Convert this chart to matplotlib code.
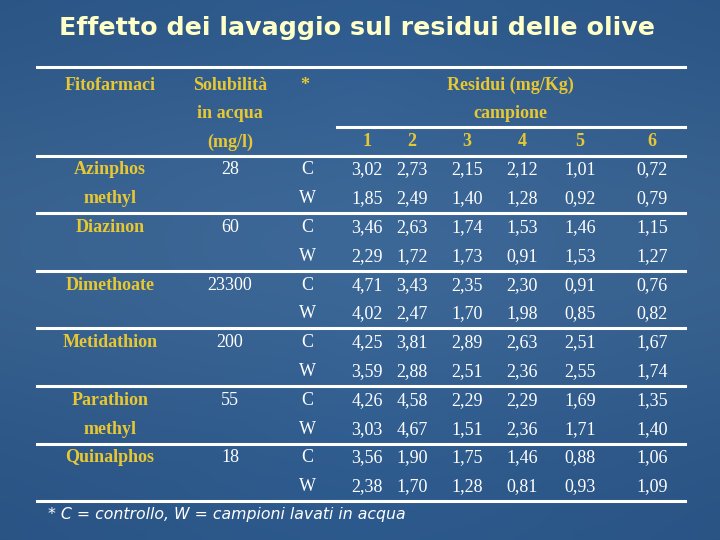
import numpy as np
import matplotlib.pyplot as plt

# table content
title = "Effetto dei lavaggio sul residui delle olive"
fitofarmaci = [["Azinphos", "methyl"], ["Diazinon", ""], ["Dimethoate", ""],
               ["Metidathion", ""], ["Parathion", "methyl"], ["Quinalphos", ""]]
solubilita = ["28", "60", "23300", "200", "55", "18"]
trattamento = ["C", "W"]
campioni = ["1", "2", "3", "4", "5", "6"]
residui_c = [
    ["3,02", "2,73", "2,15", "2,12", "1,01", "0,72"],
    ["3,46", "2,63", "1,74", "1,53", "1,46", "1,15"],
    ["4,71", "3,43", "2,35", "2,30", "0,91", "0,76"],
    ["4,25", "3,81", "2,89", "2,63", "2,51", "1,67"],
    ["4,26", "4,58", "2,29", "2,29", "1,69", "1,35"],
    ["3,56", "1,90", "1,75", "1,46", "0,88", "1,06"],
]
residui_w = [
    ["1,85", "2,49", "1,40", "1,28", "0,92", "0,79"],
    ["2,29", "1,72", "1,73", "0,91", "1,53", "1,27"],
    ["4,02", "2,47", "1,70", "1,98", "0,85", "0,82"],
    ["3,59", "2,88", "2,51", "2,36", "2,55", "1,74"],
    ["3,03", "4,67", "1,51", "2,36", "1,71", "1,40"],
    ["2,38", "1,70", "1,28", "0,81", "0,93", "1,09"],
]
nota = "* C = controllo, W = campioni lavati in acqua"

YELLOW = "#e8c832"
TITLE_COL = "#ffffc8"
SERIF = "Liberation Serif"

fig = plt.figure(figsize=(7.2, 5.4), dpi=100)
ax = fig.add_axes([0, 0, 1, 1])
ax.set_xlim(0, 720)
ax.set_ylim(540, 0)
ax.axis("off")

# blue slide background, a bit lighter in the middle
t = np.linspace(0, 1, 256)
w = np.exp(-((t - 0.45) / 0.35) ** 2)
top = np.array([0x2b, 0x58, 0x8c]) / 255
mid = np.array([0x3c, 0x68, 0x98]) / 255
grad = top[None, :] * (1 - w[:, None]) + mid[None, :] * w[:, None]
xs = np.linspace(0, 1, 64)
wx = 1 - 0.12 * np.abs(xs - 0.5)
img = grad[:, None, :] * wx[None, :, None]
ax.imshow(img, extent=[0, 720, 540, 0], aspect="auto", zorder=0)

ax.text(357, 28, title, ha="center", va="center", fontsize=18.3,
        fontweight="bold", color=TITLE_COL, family="DejaVu Sans")

col_name, col_sol, col_cw = 110, 230, 307
col_x = [367, 412, 467, 522, 580, 652]
hdr = dict(ha="center", va="center", fontsize=13, fontweight="bold",
           color=YELLOW, family=SERIF)
val = dict(ha="center", va="center", fontsize=13, color="white", family=SERIF)

# header
ax.text(col_name, 85, "Fitofarmaci", **hdr)
ax.text(col_sol, 85, "Solubilità", **hdr)
ax.text(col_sol, 114, "in acqua", **hdr)
ax.text(col_sol, 142, "(mg/l)", **hdr)
ax.text(305, 85, "*", **hdr)
ax.text(510, 85, "Residui (mg/Kg)", **hdr)
ax.text(510, 114, "campione", **hdr)
for x, c in zip(col_x, campioni):
    ax.text(x, 142, c, **hdr)

lw = 2.2
ax.plot([37, 685], [67, 67], color="white", lw=lw)
ax.plot([337, 685], [127, 127], color="white", lw=lw)
ax.plot([37, 685], [155.5, 155.5], color="white", lw=lw)

row_h = 28.8
y0 = 170
for i, name in enumerate(fitofarmaci):
    yc = y0 + 2 * i * row_h
    yw = yc + row_h
    ax.text(col_name, yc, name[0], **hdr)
    if name[1]:
        ax.text(col_name, yw, name[1], **hdr)
    ax.text(col_sol, yc, solubilita[i], **val)
    ax.text(col_cw, yc, trattamento[0], **val)
    ax.text(col_cw, yw, trattamento[1], **val)
    for x, vc, vw in zip(col_x, residui_c[i], residui_w[i]):
        ax.text(x, yc, vc, **val)
        ax.text(x, yw, vw, **val)
    ysep = yw + row_h / 2
    ax.plot([37, 685], [ysep, ysep], color="white", lw=lw)

ax.text(48, 515, nota, ha="left", va="center", fontsize=11.3,
        style="italic", color="white", family="DejaVu Sans")

fig.savefig("out.png", dpi=100)
